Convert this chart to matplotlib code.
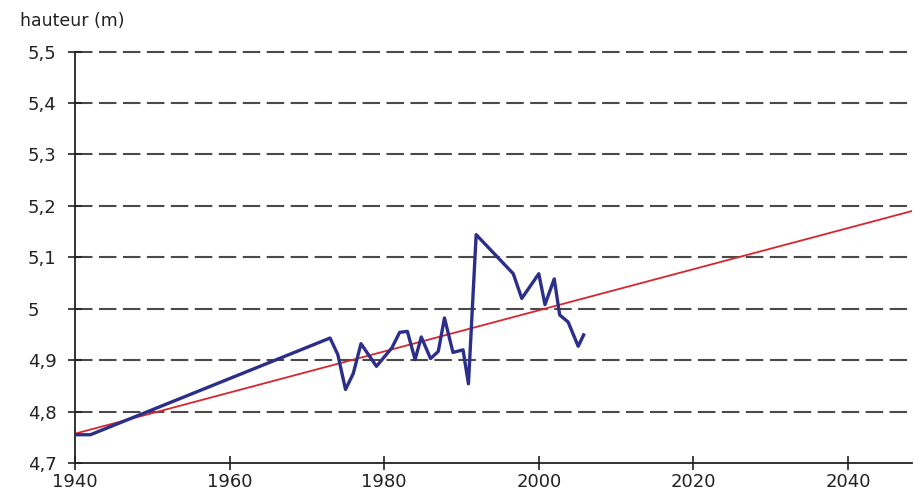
import matplotlib
matplotlib.use("Agg")
import matplotlib.pyplot as plt

# hauteur mesuree (m)
annees = [1940, 1942, 1973, 1974, 1975, 1976, 1977, 1979, 1981, 1982, 1983,
          1984, 1984.8, 1986, 1987, 1987.8, 1988.9, 1990.2, 1990.9, 1991.9,
          1996.7, 1997.8, 2000, 2000.8, 2002, 2002.7, 2003.8, 2005.1, 2005.8]
hauteur = [4.755, 4.755, 4.943, 4.911, 4.843, 4.874, 4.932, 4.888, 4.924, 4.954, 4.956,
           4.901, 4.945, 4.903, 4.917, 4.982, 4.915, 4.920, 4.854, 5.144,
           5.068, 5.020, 5.068, 5.008, 5.058, 4.988, 4.974, 4.927, 4.949]

# tendance lineaire
tend_annees = [1940, 2048.3]
tend_hauteur = [4.757, 5.19]

yticks = [4.7, 4.8, 4.9, 5.0, 5.1, 5.2, 5.3, 5.4, 5.5]
ylabels = ["4,7", "4,8", "4,9", "5", "5,1", "5,2", "5,3", "5,4", "5,5"]
xticks = [1940, 1960, 1980, 2000, 2020, 2040]

fig = plt.figure(figsize=(9.14, 4.91), dpi=100)
ax = fig.add_axes([0.082, 0.057, 0.916, 0.838])

for v in yticks[1:]:
    ax.axhline(v, color="#4a4a4a", lw=1.5, ls=(0, (8.4, 3.1)), zorder=1,
               clip_on=False)

ax.plot(tend_annees, tend_hauteur, color="#d8262e", lw=1.3, zorder=2)
ax.plot(annees, hauteur, color="#2c2f8a", lw=2.4, zorder=3)

ax.set_xlim(1940, 2048.3)
ax.set_ylim(4.7, 5.5)
ax.set_xticks(xticks)
ax.set_yticks(yticks)
ax.set_yticklabels(ylabels)
ax.tick_params(direction="inout", length=10, width=1.2, labelsize=13,
               colors="#222222", pad=2)
# etiquettes de l'axe y alignees a gauche
ax.tick_params(axis="y", pad=29)
for lab in ax.get_yticklabels():
    lab.set_ha("left")
for s in ["top", "right"]:
    ax.spines[s].set_visible(False)
for s in ["left", "bottom"]:
    ax.spines[s].set_linewidth(1.3)
    ax.spines[s].set_color("#222222")

fig.text(0.022, 0.957, "hauteur (m)", fontsize=12.5, color="#222222", va="center")

fig.savefig("out.png", dpi=100)
